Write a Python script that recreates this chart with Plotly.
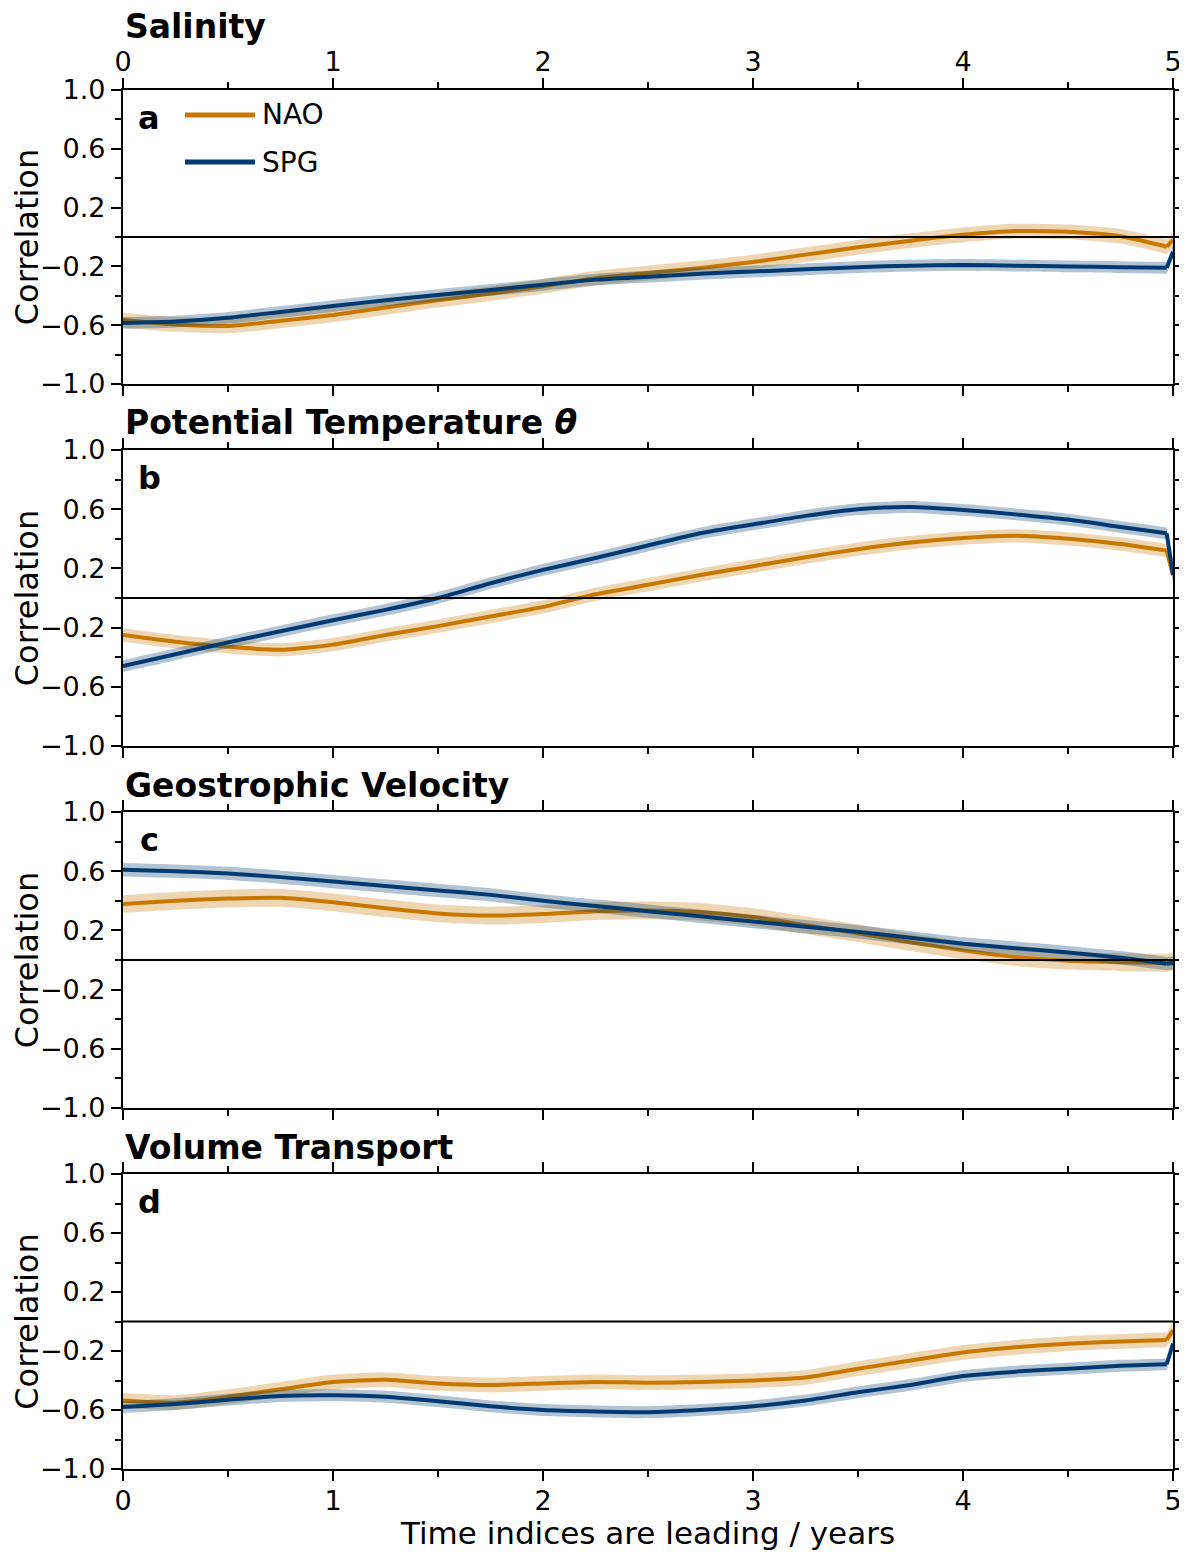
import plotly.graph_objects as go

# ---------------- data ----------------
LAG = [0.0, 0.25, 0.5, 0.75, 1.0, 1.25, 1.5, 1.75, 2.0, 2.25, 2.5, 2.75, 3.0,
       3.25, 3.5, 3.75, 4.0, 4.25, 4.5, 4.75, 4.97, 5.0]

PANEL_TITLES = ["Salinity", "Potential Temperature <i>θ</i>",
                "Geostrophic Velocity", "Volume Transport"]
PANEL_LETTERS = ["a", "b", "c", "d"]

NAO_SAL = [-0.565, -0.595, -0.605, -0.57, -0.53, -0.48, -0.43, -0.385, -0.335, -0.28,
           -0.245, -0.21, -0.17, -0.12, -0.07, -0.025, 0.015, 0.04, 0.035, 0.005, -0.066, -0.02]
SPG_SAL = [-0.585, -0.575, -0.55, -0.51, -0.47, -0.43, -0.395, -0.36, -0.325, -0.29,
           -0.27, -0.25, -0.235, -0.22, -0.205, -0.195, -0.19, -0.195, -0.20, -0.205, -0.21, -0.10]

NAO_THETA = [-0.25, -0.295, -0.33, -0.35, -0.315, -0.25, -0.19, -0.125, -0.06, 0.025,
             0.09, 0.155, 0.215, 0.275, 0.33, 0.375, 0.405, 0.42, 0.40, 0.365, 0.32, 0.155]
SPG_THETA = [-0.46, -0.38, -0.30, -0.225, -0.15, -0.08, 0.0, 0.10, 0.19, 0.27,
             0.355, 0.437, 0.497, 0.555, 0.60, 0.615, 0.595, 0.565, 0.53, 0.48, 0.437, 0.155]

NAO_VEL = [0.378, 0.40, 0.415, 0.42, 0.39, 0.35, 0.315, 0.30, 0.31, 0.33,
           0.335, 0.325, 0.29, 0.235, 0.18, 0.12, 0.065, 0.02, -0.005, -0.015, -0.02, -0.01]
SPG_VEL = [0.61, 0.60, 0.585, 0.56, 0.53, 0.50, 0.47, 0.44, 0.40, 0.365,
           0.33, 0.295, 0.26, 0.225, 0.19, 0.15, 0.11, 0.08, 0.05, 0.015, -0.025, -0.02]

NAO_VOL = [-0.535, -0.55, -0.51, -0.46, -0.41, -0.395, -0.42, -0.43, -0.42, -0.41,
           -0.415, -0.41, -0.40, -0.38, -0.32, -0.265, -0.21, -0.175, -0.15, -0.135, -0.125, -0.06]
SPG_VOL = [-0.58, -0.56, -0.53, -0.505, -0.50, -0.51, -0.54, -0.575, -0.60, -0.61,
           -0.615, -0.60, -0.575, -0.535, -0.48, -0.43, -0.37, -0.34, -0.32, -0.30, -0.29, -0.15]

NAO_SERIES = [NAO_SAL, NAO_THETA, NAO_VEL, NAO_VOL]
SPG_SERIES = [SPG_SAL, SPG_THETA, SPG_VEL, SPG_VOL]
NAO_SPREAD = [0.05, 0.045, 0.06, 0.05]   # half-width of the shaded band
SPG_SPREAD = [0.04, 0.04, 0.045, 0.04]

Y_TICKS = [-1.0, -0.6, -0.2, 0.2, 0.6, 1.0]
Y_TICK_TEXT = ["\u22121.0", "\u22120.6", "\u22120.2", "0.2", "0.6", "1.0"]
Y_MINOR = [-0.8, -0.4, 0.0, 0.4, 0.8]
X_TICKS = [0, 1, 2, 3, 4, 5]
X_MINOR = [0.5, 1.5, 2.5, 3.5, 4.5]

# ---------------- style ----------------
NAO_COLOR = "#c87800"
SPG_COLOR = "#003a70"
NAO_BAND = "rgba(200,120,0,0.3)"
SPG_BAND = "rgba(0,58,112,0.3)"
FONT = "DejaVu Sans"

# page has an 8px body margin -> shrink figure so the plot lands where the reference has it
W, H = 1179, 1547
M_T, M_B, M_L, M_R = 82, 86, 115, 14
PLOT_H = H - M_T - M_B
# reference-screenshot pixel top/bottom of each panel
PANEL_PX = [(90, 384), (450, 746), (812, 1108), (1174, 1469)]
TITLE_PX = [27, 423, 785, 1147]


def to_paper(py):
    return (1469 - py) / PLOT_H


fig = go.Figure()
layout_axes = {}
annotations = []
shapes = []
SMOOTH = 0.6


def band_and_line(xs, vals, spread, band, color, name, xa, ya, shape):
    lower = [v - spread for v in vals]
    upper = [v + spread for v in vals]
    ln = dict(width=0, shape=shape)
    if shape == "spline":
        ln["smoothing"] = SMOOTH
    fig.add_trace(go.Scatter(x=xs, y=lower, xaxis=xa, yaxis=ya, mode="lines",
                             line=ln, showlegend=False, hoverinfo="skip"))
    fig.add_trace(go.Scatter(x=xs, y=upper, xaxis=xa, yaxis=ya, mode="lines",
                             line=ln, fill="tonexty", fillcolor=band,
                             showlegend=False, hoverinfo="skip"))
    ml = dict(color=color, width=4, shape=shape)
    if shape == "spline":
        ml["smoothing"] = SMOOTH
    fig.add_trace(go.Scatter(x=xs, y=vals, xaxis=xa, yaxis=ya, mode="lines",
                             line=ml, name=name, showlegend=False))


for i in range(4):
    n = i + 1
    xa = "x" if n == 1 else f"x{n}"
    ya = "y" if n == 1 else f"y{n}"
    for vals, spread, band, color, name in [
        (NAO_SERIES[i], NAO_SPREAD[i], NAO_BAND, NAO_COLOR, "NAO"),
        (SPG_SERIES[i], SPG_SPREAD[i], SPG_BAND, SPG_COLOR, "SPG"),
    ]:
        # smooth body of the curve, then the straight final step at lag 5
        band_and_line(LAG[:-1], vals[:-1], spread, band, color, name, xa, ya, "spline")
        band_and_line(LAG[-2:], vals[-2:], spread, band, color, name, xa, ya, "linear")

    top, bot = PANEL_PX[i]
    dom = [to_paper(bot), to_paper(top)]
    xkey = "xaxis" if n == 1 else f"xaxis{n}"
    ykey = "yaxis" if n == 1 else f"yaxis{n}"
    xcfg = dict(
        domain=[0, 1], anchor=ya, range=[0, 5],
        tickmode="array", tickvals=X_TICKS,
        ticks="outside", ticklen=10, tickwidth=1.8, tickcolor="black",
        showline=True, linecolor="black", linewidth=2.2, mirror="ticks",
        showgrid=False, zeroline=False,
        minor=dict(tickmode="array", tickvals=X_MINOR,
                   ticks="outside", ticklen=6, tickwidth=1.8, tickcolor="black",
                   showgrid=False),
        tickfont=dict(family=FONT, size=27, color="black"),
        ticklabelstandoff=-4,
        showticklabels=(n in (1, 4)),
    )
    if n == 1:
        xcfg["side"] = "top"
    if n == 4:
        xcfg["title"] = dict(text="Time indices are leading / years",
                             font=dict(family=FONT, size=31, color="black"),
                             standoff=0)
    layout_axes[xkey] = xcfg
    layout_axes[ykey] = dict(
        domain=dom, anchor=xa, range=[-1, 1],
        tickmode="array", tickvals=Y_TICKS, ticktext=Y_TICK_TEXT,
        ticks="outside", ticklen=10, tickwidth=1.8, tickcolor="black",
        showline=True, linecolor="black", linewidth=2.2, mirror="ticks",
        showgrid=False, zeroline=False,
        minor=dict(tickmode="array", tickvals=Y_MINOR,
                   ticks="outside", ticklen=6, tickwidth=1.8, tickcolor="black",
                   showgrid=False),
        tickfont=dict(family=FONT, size=27, color="black"),
        title=dict(text="Correlation", font=dict(family=FONT, size=32, color="black"),
                   standoff=4),
    )
    # zero line
    shapes.append(dict(type="line", xref=f"{xa} domain", yref=ya, x0=0, x1=1, y0=0, y1=0,
                       line=dict(color="black", width=2), layer="above"))
    # panel title
    annotations.append(dict(text=f"<b>{PANEL_TITLES[i]}</b>", xref="paper", yref="paper",
                            x=0, y=to_paper(TITLE_PX[i]), xanchor="left", yanchor="middle",
                            showarrow=False, font=dict(family=FONT, size=33, color="black")))
    # panel letter
    annotations.append(dict(text=f"<b>{PANEL_LETTERS[i]}</b>", xref=f"{xa} domain",
                            yref=f"{ya} domain", x=0.0248, y=1 - 28 / 294,
                            xanchor="center", yanchor="middle", showarrow=False,
                            font=dict(family=FONT, size=32, color="black")))

# manual legend in panel a
for name, color, ypx in [("NAO", NAO_COLOR, 115), ("SPG", SPG_COLOR, 162)]:
    yd = 1 - (ypx - 90) / 294
    shapes.append(dict(type="line", xref="x domain", yref="y domain",
                       x0=(185 - 123) / 1050, x1=(255 - 123) / 1050, y0=yd, y1=yd,
                       line=dict(color=color, width=5)))
    annotations.append(dict(text=name, xref="x domain", yref="y domain",
                            x=(260 - 123) / 1050, y=yd, xanchor="left", yanchor="middle",
                            showarrow=False, font=dict(family=FONT, size=28, color="black")))

fig.update_layout(
    width=W, height=H,
    margin=dict(l=M_L, r=M_R, t=M_T, b=M_B, autoexpand=False),
    paper_bgcolor="white", plot_bgcolor="white",
    showlegend=False,
    annotations=annotations, shapes=shapes,
    font=dict(family=FONT, color="black"),
    **layout_axes,
)

fig.write_html("out.html")
